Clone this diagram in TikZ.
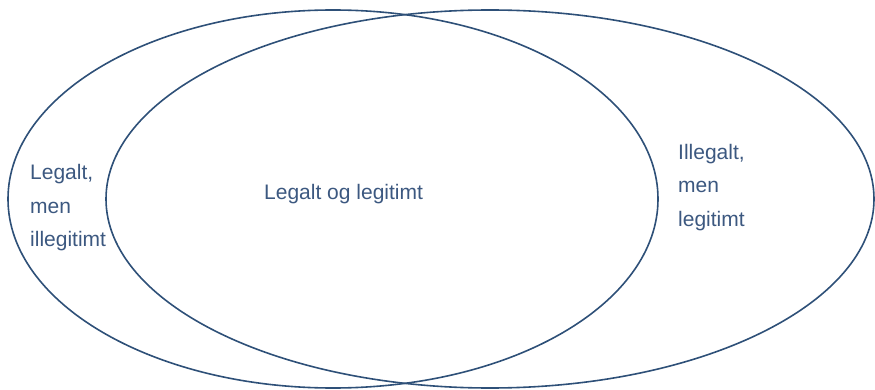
\documentclass[tikz,border=0pt]{standalone}
\usepackage{fontspec}
\setmainfont{Liberation Sans}
\definecolor{ringblue}{RGB}{46,80,120}
\definecolor{labelblue}{RGB}{60,88,128}
\begin{document}
\begin{tikzpicture}[x=1pt,y=-1pt,
  ring/.style={draw=ringblue,line width=1.6pt},
  lbl/.style={anchor=base west,inner sep=0pt,text=labelblue,font=\fontsize{21}{25}\selectfont}]
\useasboundingbox (0,0) rectangle (875,390);
% the two overlapping sets
\draw[ring] (333,199) ellipse [x radius=325pt, y radius=189pt];
\draw[ring] (490,199) ellipse [x radius=384pt, y radius=189pt];
% region labels
\node[lbl] (l1) at (30,180) {Legalt,};
\node[lbl] (l2) at (30,213) {men};
\node[lbl] (l3) at (30,246) {illegitimt};
\node[lbl] (c1) at (264,200) {Legalt og legitimt};
\node[lbl] (r1) at (678,160) {Illegalt,};
\node[lbl] (r2) at (678,193) {men};
\node[lbl] (r3) at (678,226) {legitimt};
\end{tikzpicture}
\end{document}
